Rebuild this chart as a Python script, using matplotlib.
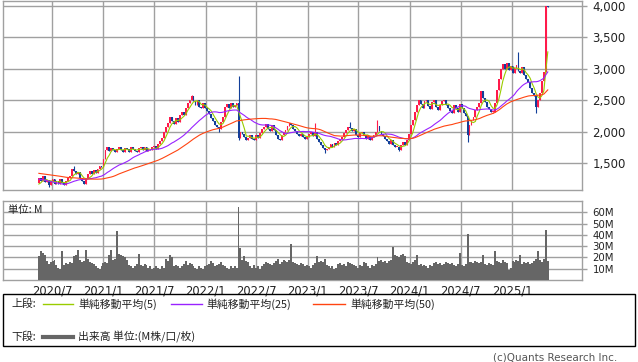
import numpy as np
import pandas as pd
import matplotlib
matplotlib.use('Agg')
import matplotlib.pyplot as plt
import matplotlib.dates as mdates
from matplotlib.patches import Rectangle
from matplotlib.lines import Line2D

plt.rcParams['font.family'] = ['DejaVu Sans', 'Noto Sans CJK JP']

# weekly closes (yen), weeks from 2020-05-15
close = [
    1260, 1210, 1290, 1200, 1230, 1150, 1220, 1250, 1170, 1210,
    1160, 1240, 1180, 1150, 1220, 1260, 1300, 1410, 1380, 1320,
    1350, 1270, 1210, 1170, 1260, 1330, 1380, 1320, 1390, 1340,
    1400, 1450, 1430, 1560, 1700, 1760, 1690, 1740, 1700, 1670,
    1730, 1760, 1700, 1680, 1740, 1720, 1680, 1750, 1730, 1690,
    1680, 1740, 1760, 1700, 1750, 1690, 1730, 1700, 1750, 1770,
    1730, 1800, 1850, 1900, 2000, 2080, 2140, 2240, 2170, 2120,
    2210, 2160, 2270, 2310, 2260, 2380, 2450, 2500, 2560, 2480,
    2420, 2500, 2400, 2370, 2450, 2380, 2330, 2280, 2220, 2170,
    2110, 2070, 2050, 2160, 2240, 2400, 2440, 2370, 2450, 2390,
    2420, 2460, 1900, 2000, 1960, 1920, 1860, 1900, 1950, 1890,
    1860, 1950, 1900, 1980, 2050, 2080, 2120, 2050, 2010, 2100,
    2030, 1940, 1890, 1860, 1940, 1990, 2020, 2090, 2140, 2110,
    2050, 2010, 1970, 1930, 1960, 1920, 1880, 1910, 1960, 2000,
    1930, 2000, 1890, 1830, 1790, 1740, 1700, 1720, 1760, 1810,
    1750, 1820, 1790, 1850, 1890, 1920, 1980, 2030, 2080, 2060,
    2010, 2040, 1950, 1920, 1980, 2000, 1940, 1890, 1930, 1870,
    1910, 1940, 1990, 2090, 2010, 1970, 1930, 1880, 1850, 1810,
    1870, 1790, 1750, 1760, 1700, 1790, 1840, 1780, 1870, 1960,
    2100, 2190, 2320, 2430, 2500, 2440, 2380, 2480, 2510, 2410,
    2360, 2470, 2500, 2400, 2350, 2420, 2480, 2510, 2420, 2370,
    2330, 2300, 2420, 2370, 2320, 2440, 2380, 2300, 2250, 1950,
    2100, 2180, 2240, 2340, 2400, 2450, 2650, 2540, 2470, 2400,
    2360, 2310, 2320, 2460, 2660, 2840, 2990, 3070, 2990, 3090,
    2980, 3050, 2940, 3020, 3060, 2970, 2940, 3030, 2900, 2840,
    2790, 2690, 2610, 2560, 2390, 2510, 2610, 2800, 2950, 4000, 3990,
]

# 49 weeks before the window, only used to start the moving averages
pre_close = [
    1420, 1440, 1450, 1430, 1410, 1440, 1460, 1430, 1400, 1390, 1420,
    1450, 1440, 1430, 1460, 1470, 1440, 1420, 1430, 1450, 1440, 1420,
    1400, 1380, 1390, 1370, 1360, 1380, 1400, 1390, 1370, 1380, 1360,
    1370, 1390, 1380, 1350,
    1230, 1080, 1020, 1050, 1100, 1080, 1120, 1090, 1110, 1130, 1150, 1180,
]

# wicks that stand out from the bodies (week index -> price)
high_wick = {18: 1450, 78: 2580, 102: 2885, 141: 2140, 159: 2150,
             173: 2185, 245: 3270}
low_wick = {5: 1120, 92: 2000, 102: 1860, 146: 1660, 184: 1690,
            219: 1840, 232: 2290, 254: 2300}

# weekly volume, millions
volume = [
    21, 26, 24, 22, 17, 14, 16, 17, 18, 13,
    11, 10, 26, 13, 15, 14, 16, 15, 21, 22,
    27, 18, 16, 17, 27, 19, 16, 15, 14, 12,
    11, 10, 12, 15, 16, 15, 22, 27, 18, 19,
    43, 23, 22, 21, 20, 18, 13, 12, 11, 12,
    14, 23, 13, 12, 14, 13, 11, 12, 10, 11,
    12, 11, 10, 12, 11, 19, 17, 22, 20, 12,
    13, 12, 11, 12, 14, 17, 13, 15, 14, 12,
    11, 10, 12, 11, 10, 12, 13, 14, 17, 15,
    12, 13, 14, 16, 13, 12, 11, 10, 12, 11,
    12, 11, 65, 28, 18, 21, 17, 16, 12, 11,
    13, 11, 12, 10, 12, 14, 16, 15, 14, 13,
    15, 17, 19, 14, 16, 18, 17, 16, 18, 32,
    16, 15, 14, 13, 15, 14, 12, 13, 12, 11,
    13, 15, 21, 16, 17, 16, 19, 13, 12, 11,
    12, 10, 11, 14, 15, 13, 14, 12, 16, 15,
    14, 13, 12, 11, 13, 12, 16, 15, 12, 11,
    13, 12, 14, 20, 17, 18, 16, 17, 15, 17,
    18, 29, 22, 21, 20, 22, 23, 21, 16, 15,
    14, 16, 18, 22, 13, 14, 12, 13, 12, 11,
    13, 12, 15, 16, 14, 15, 13, 14, 16, 15,
    14, 15, 13, 12, 14, 24, 13, 12, 14, 41,
    16, 16, 15, 17, 16, 15, 16, 22, 14, 13,
    15, 14, 13, 26, 17, 16, 15, 18, 16, 15,
    9, 11, 17, 16, 18, 17, 22, 14, 16, 15,
    16, 14, 15, 17, 19, 26, 18, 16, 19, 44, 17,
]

tick_dates = ['2020-07-01', '2021-01-01', '2021-07-01', '2022-01-01', '2022-07-01',
              '2023-01-01', '2023-07-01', '2024-01-01', '2024-07-01', '2025-01-01']
tick_labels = ['2020/7', '2021/1', '2021/7', '2022/1', '2022/7',
               '2023/1', '2023/7', '2024/1', '2024/7', '2025/1']
price_ticks = [1500, 2000, 2500, 3000, 3500, 4000]
vol_ticks = [10, 20, 30, 40, 50, 60]
ma_periods = [5, 25, 50]
ma_colors = ['#99cc00', '#9922ff', '#ff4411']

UP = '#ff1a4b'
DOWN = '#123f99'
GRID = '#a0a0a0'
JP = ['Noto Sans CJK JP', 'DejaVu Sans']

dates = pd.date_range('2020-05-15', periods=len(close), freq='7D')
x = mdates.date2num(dates)
c = np.array(close, dtype=float)
o = np.concatenate([[pre_close[-1]], c[:-1]])
hi = np.maximum(o, c)
lo = np.minimum(o, c)
for k, v in high_wick.items():
    hi[k] = v
for k, v in low_wick.items():
    lo[k] = v

full = pd.Series(pre_close + close, dtype=float)
n_pre = len(pre_close)

fig = plt.figure(figsize=(6.38, 3.62), dpi=100)
W, H = 638, 362
ax = fig.add_axes([3 / W, 1 - 190 / H, 579 / W, 189 / H])
axv = fig.add_axes([3 / W, 1 - 280 / H, 579 / W, 79 / H])

tx = mdates.date2num(pd.to_datetime(tick_dates))
x0 = tx[0] - 49 * 3.576
x1 = tx[-1] + 70 * 3.576

# price panel
colors = np.where(c >= o, UP, DOWN)
ax.vlines(x, lo, hi, colors=colors, lw=0.8, zorder=2)
body = np.maximum(np.abs(c - o), 14)
ax.bar(x, body, bottom=np.minimum(o, c), width=6.5, color=colors, lw=0, zorder=3)
for p, col in zip(ma_periods, ma_colors):
    ma = full.rolling(p).mean().values[n_pre:]
    ax.plot(x, ma, color=col, lw=0.8, zorder=4)

ax.set_xlim(x0, x1)
ax.set_ylim(1071, 4080)
ax.set_xticks(tx)
ax.set_yticks(price_ticks)
ax.set_yticklabels([f'{v:,}' for v in price_ticks])

# volume panel
axv.bar(x, volume, width=7.0, color='#666666', lw=0, zorder=3)
axv.set_xlim(x0, x1)
axv.set_ylim(0, 70)
axv.set_xticks(tx)
axv.set_xticklabels(tick_labels)
axv.set_yticks(vol_ticks)
axv.set_yticklabels([f'{v}M' for v in vol_ticks])

for a in (ax, axv):
    a.set_axisbelow(True)
    a.grid(color=GRID, lw=1.0)
    for s in a.spines.values():
        s.set_color(GRID)
        s.set_linewidth(1.0)
    a.yaxis.tick_right()
    a.tick_params(axis='y', length=3.6, width=1.0, color=GRID, pad=4,
                  labelsize=8.5, labelcolor='#222222')
    a.tick_params(axis='x', length=0, pad=3, labelsize=8.3, labelcolor='#222222')
ax.tick_params(axis='x', labelbottom=False)
axv.tick_params(axis='y', labelsize=7.3, pad=4)

fig.text(8 / W, 1 - 210 / H, '単位: M', family=JP, fontsize=7.5,
         va='center', ha='left', color='#222222')

# legend box
fig.add_artist(Rectangle((3 / W, 1 - 346 / H), 632 / W, 52 / H,
                         transform=fig.transFigure, fill=False,
                         edgecolor='black', lw=1.0))
ly1 = 1 - 304 / H
ly2 = 1 - 337 / H
fig.text(11 / W, ly1, '上段:', family=JP, fontsize=7.8, va='center', color='#222222')
fig.text(11 / W, ly2, '下段:', family=JP, fontsize=7.8, va='center', color='#222222')
leg_items = [(43, 73, 78, '単純移動平均(5)'),
             (171, 202, 206, '単純移動平均(25)'),
             (313, 345, 350, '単純移動平均(50)')]
for (xa, xb, xt, lab), col in zip(leg_items, ma_colors):
    fig.add_artist(Line2D([xa / W, xb / W], [ly1, ly1], transform=fig.transFigure,
                          color=col, lw=1.0))
    fig.text(xt / W, ly1, lab, family=JP, fontsize=7.8, va='center', color='#222222')
fig.add_artist(Line2D([43 / W, 73 / W], [ly2, ly2], transform=fig.transFigure,
                      color='#666666', lw=3.0))
fig.text(78 / W, ly2, '出来高 単位:(M株/口/枚)', family=JP, fontsize=7.8,
         va='center', color='#222222')

fig.text(617 / W, 1 - 357 / H, '(c)Quants Research Inc.', fontsize=7.5,
         ha='right', va='center', color='#555555')

fig.savefig('out.png', dpi=100)
